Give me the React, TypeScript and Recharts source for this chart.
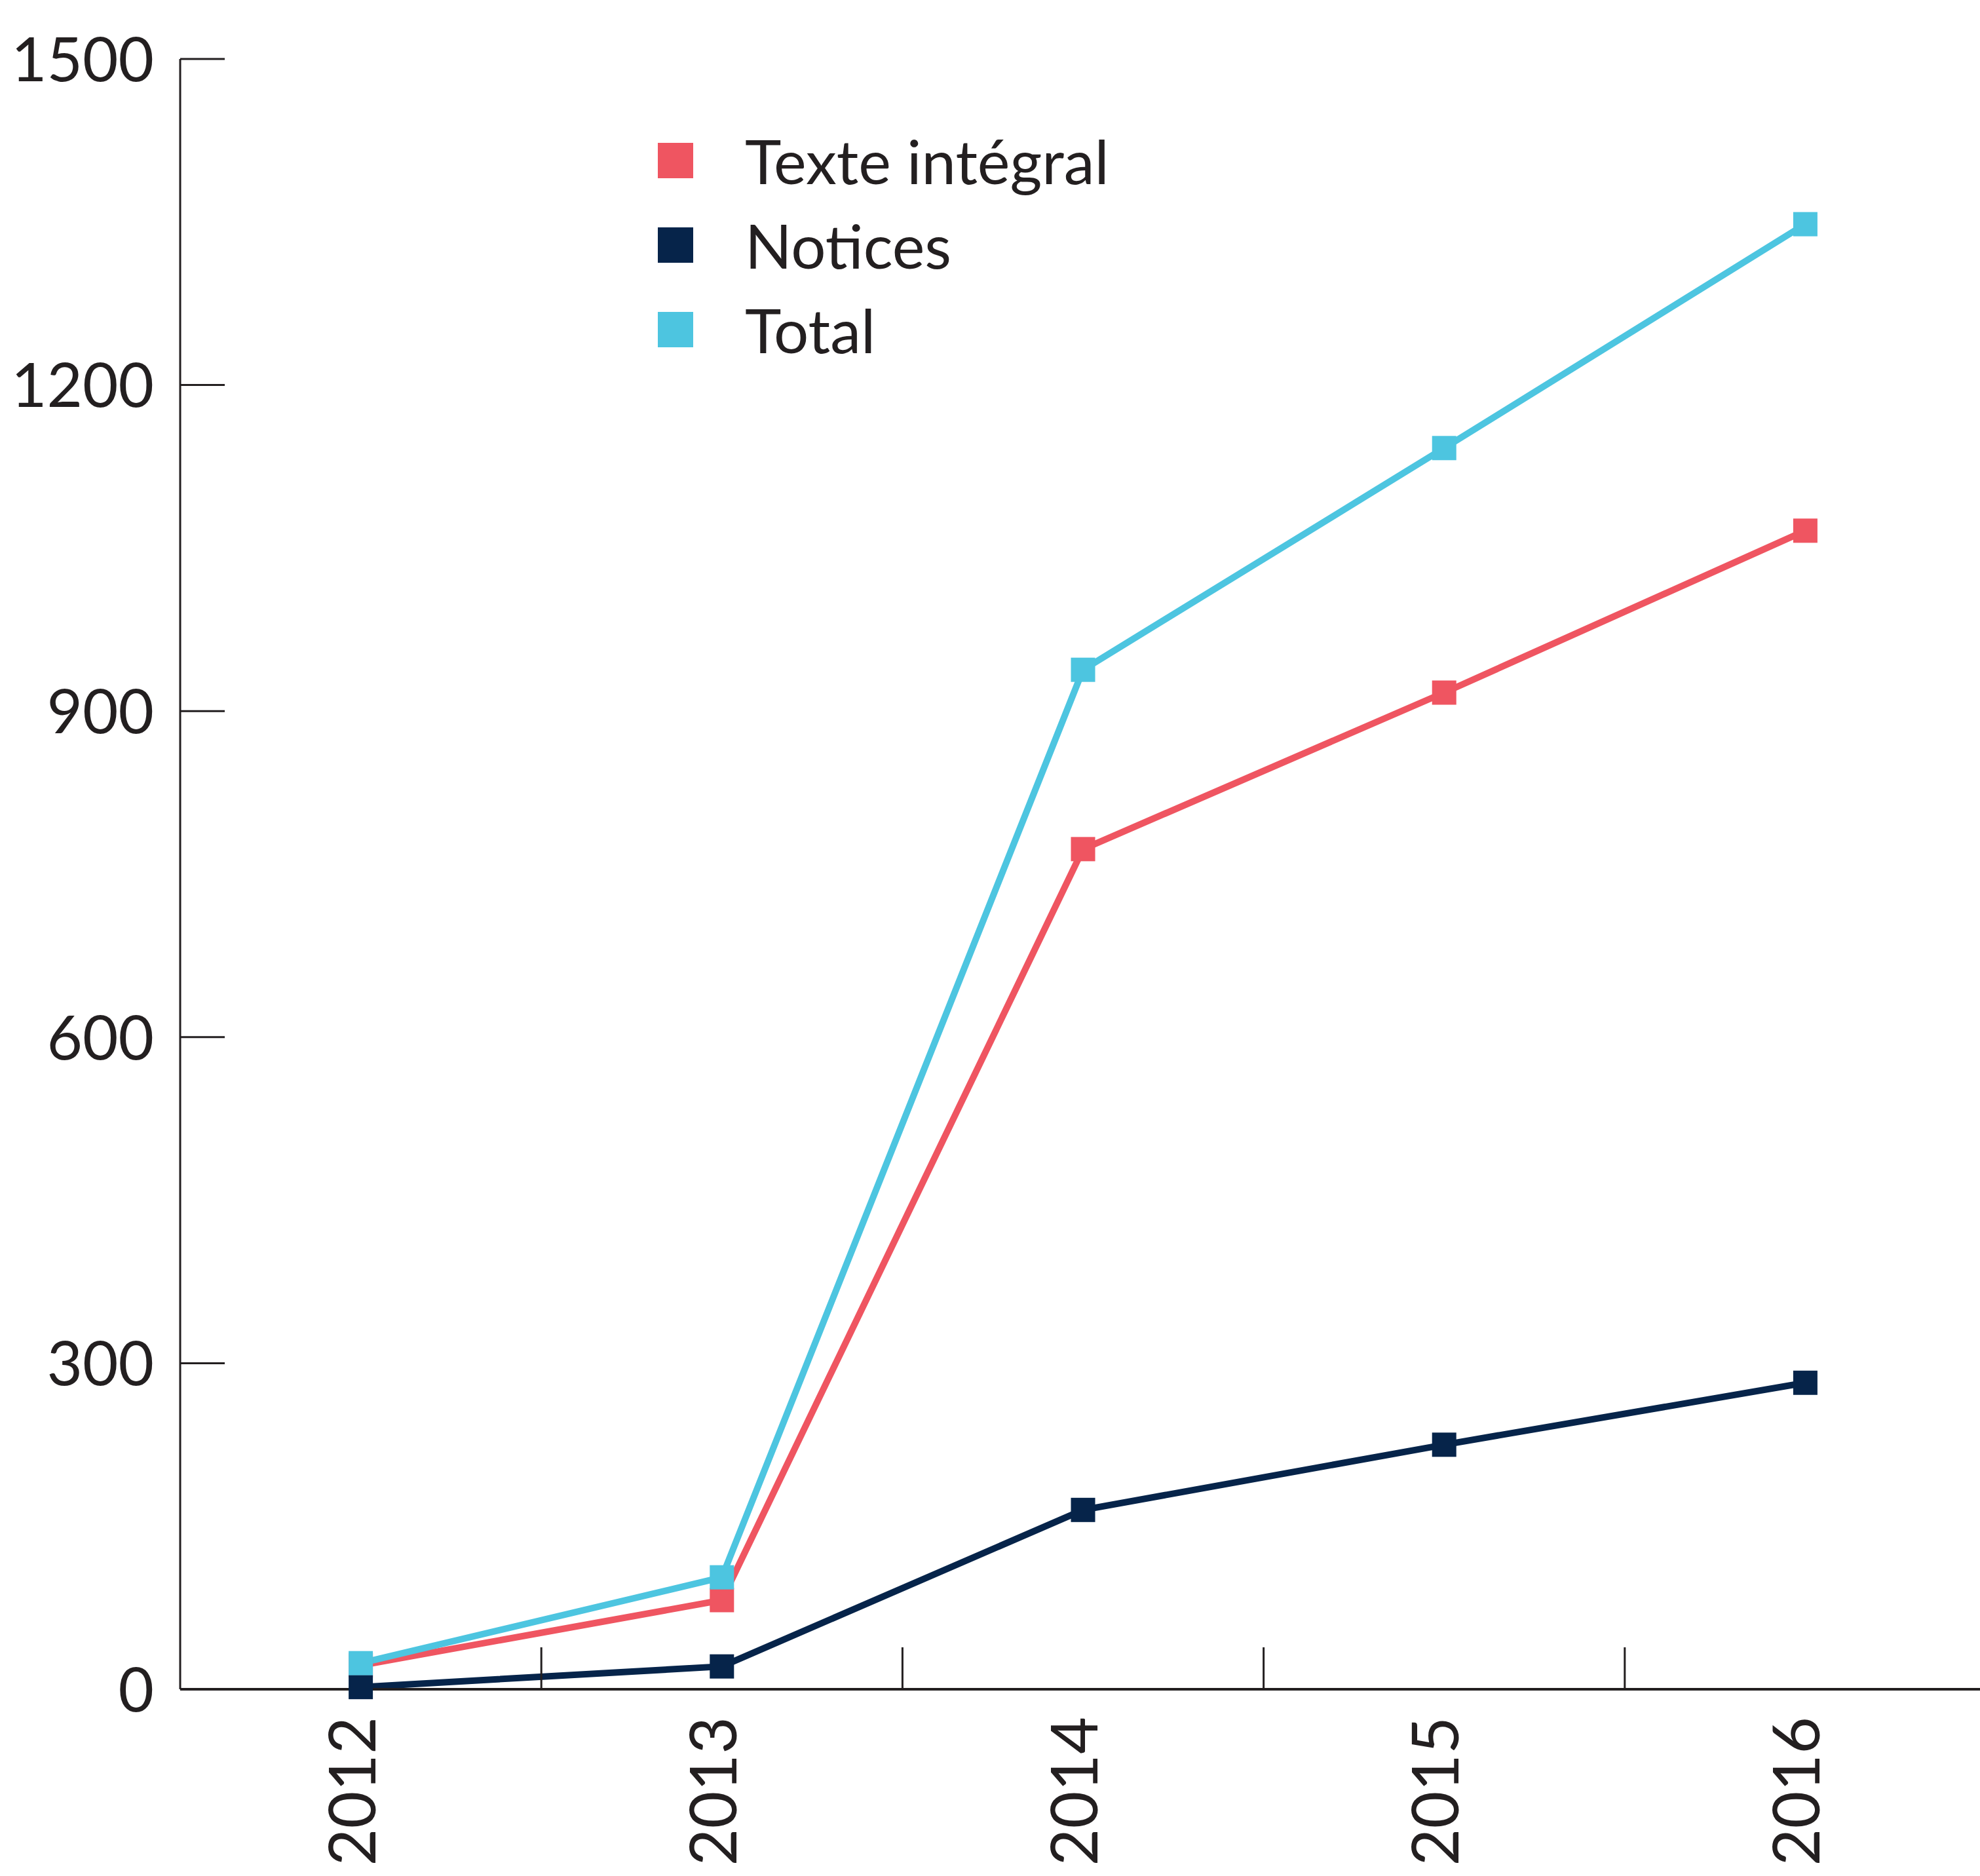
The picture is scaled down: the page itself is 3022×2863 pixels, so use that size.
import { ComposedChart, Line, XAxis, YAxis, Legend } from "recharts";

const years = ["2012", "2013", "2014", "2015", "2016"];
const texteIntegral = [22, 82, 773, 917, 1066];
const notices = [2, 21, 165, 225, 282];
const total = [24, 103, 938, 1142, 1348];
const yTicks = [0, 300, 600, 900, 1200, 1500];
const legendOrder = ["Texte intégral", "Notices", "Total"];

const RED = "#EF5561";
const NAVY = "#06244A";
const CYAN = "#4DC5E0";
const INK = "#231F20";
const FONT = "Lato, 'Open Sans', sans-serif";
const FONT_SIZE = 94;

const data = years.map((year, i) => ({
  year,
  texte: texteIntegral[i],
  notices: notices[i],
  total: total[i],
}));

const Y_MARGIN = 40;
const X_MARGIN = 42;

const YTick = (props: any) => {
  const { x, y, payload } = props;
  const axisX = x + Y_MARGIN;
  return (
    <g>
      <line x1={axisX} x2={axisX + 68} y1={y} y2={y} stroke={INK} strokeWidth={3} />
      <text x={x} y={y} dy={FONT_SIZE * 0.36} textAnchor="end" fontSize={FONT_SIZE} fontFamily={FONT} fill={INK}>
        {payload.value}
      </text>
    </g>
  );
};

const XTick = (props: any) => {
  const { x, y, payload, index } = props;
  const axisY = y - X_MARGIN;
  const half = payload.offset ?? 0;
  const tx = x - 16;
  return (
    <g>
      {index > 0 && (
        <line x1={x - half} x2={x - half} y1={axisY} y2={axisY - 64} stroke={INK} strokeWidth={3} />
      )}
      <text
        x={tx}
        y={y}
        transform={`rotate(-90, ${tx}, ${y})`}
        textAnchor="end"
        dominantBaseline="central"
        fontSize={98}
        fontFamily={FONT}
        fill={INK}
      >
        {payload.value}
      </text>
    </g>
  );
};

const square = (color: string) => (props: any) => {
  const { cx, cy, index } = props;
  return <rect key={`sq-${index}`} x={cx - 18.5} y={cy - 18.5} width={37} height={37} fill={color} />;
};

const renderLegend = (props: any) => {
  const items = [...(props.payload || [])].sort(
    (a: any, b: any) => legendOrder.indexOf(a.value) - legendOrder.indexOf(b.value)
  );
  return (
    <div>
      {items.map((entry: any) => (
        <div key={entry.value} style={{ display: "flex", alignItems: "center", height: 129 }}>
          <span style={{ width: 54, height: 54, background: entry.color, display: "inline-block" }} />
          <span style={{ marginLeft: 79, fontSize: FONT_SIZE, fontFamily: FONT, color: INK, lineHeight: 1 }}>
            {entry.value}
          </span>
        </div>
      ))}
    </div>
  );
};

export default function App() {
  return (
    <div style={{ position: "absolute", left: 0, top: 0, width: 3022, height: 2863, overflow: "hidden", background: "#fff" }}>
      <ComposedChart width={3031} height={2863} data={data} margin={{ top: 90, right: 0, bottom: 40, left: 0 }}>
        <XAxis
          dataKey="year"
          scale="band"
          height={245}
          axisLine={{ stroke: INK, strokeWidth: 4 }}
          tickLine={false}
          tickSize={0}
          tickMargin={X_MARGIN}
          tick={<XTick />}
          interval={0}
        />
        <YAxis
          width={275}
          domain={[0, 1500]}
          ticks={yTicks}
          axisLine={{ stroke: INK, strokeWidth: 3 }}
          tickLine={false}
          tickSize={0}
          tickMargin={Y_MARGIN}
          tick={<YTick />}
          interval={0}
        />
        <Legend
          layout="vertical"
          align="center"
          verticalAlign="middle"
          wrapperStyle={{ left: 1004, top: 180, width: 1000 }}
          content={renderLegend}
        />
        <Line dataKey="texte" name="Texte intégral" stroke={RED} strokeWidth={10} dot={square(RED)} activeDot={false} isAnimationActive={false} />
        <Line dataKey="notices" name="Notices" stroke={NAVY} strokeWidth={10} dot={square(NAVY)} activeDot={false} isAnimationActive={false} />
        <Line dataKey="total" name="Total" stroke={CYAN} strokeWidth={10} dot={square(CYAN)} activeDot={false} isAnimationActive={false} />
      </ComposedChart>
    </div>
  );
}
